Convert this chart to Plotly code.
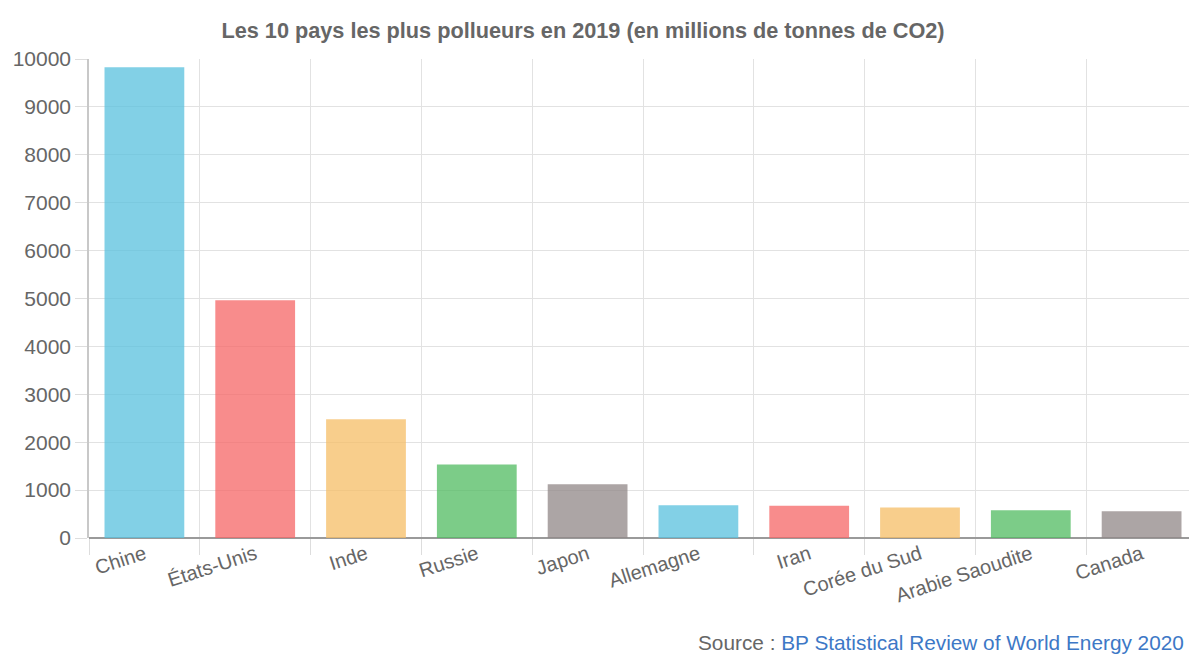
import plotly.graph_objects as go

countries = ["Chine", "États-Unis", "Inde", "Russie", "Japon", "Allemagne", "Iran",
             "Corée du Sud", "Arabie Saoudite", "Canada"]
emissions = [9825.8, 4964.7, 2480.4, 1532.6, 1123.1, 683.8, 670.7, 638.6, 579.9, 556.2]
bar_colors = ["rgba(88,192,222,0.75)", "rgba(246,102,102,0.75)", "rgba(246,190,102,0.75)",
              "rgba(80,187,96,0.75)", "rgba(144,135,135,0.75)",
              "rgba(88,192,222,0.75)", "rgba(246,102,102,0.75)", "rgba(246,190,102,0.75)",
              "rgba(80,187,96,0.75)", "rgba(144,135,135,0.75)"]
y_ticks = [0, 1000, 2000, 3000, 4000, 5000, 6000, 7000, 8000, 9000, 10000]
y_tick_labels = [str(v) for v in y_ticks]

# page has an 8px body margin, so figure coords = screen coords - 8
OFF = 8
W, H = 1197 - OFF, 657 - OFF
FONT = "Liberation Sans, Arial, sans-serif"

L, T = 89 - OFF, 59 - OFF
B = H - (538 - OFF)

fig = go.Figure(go.Bar(
    x=countries, y=emissions,
    marker=dict(color=bar_colors, line=dict(width=0)),
    width=0.72,
))

fig.update_layout(
    width=W, height=H,
    margin=dict(l=L, r=0, t=T, b=B, autoexpand=False),
    paper_bgcolor="white", plot_bgcolor="white",
    showlegend=False,
    font=dict(family=FONT, color="#666666", size=20),
    title=dict(text="<b>Les 10 pays les plus pollueurs en 2019 (en millions de tonnes de CO2)</b>",
               x=(583 - OFF) / W, xanchor="center", xref="container",
               y=1 - (30 - OFF) / H, yanchor="middle", yref="container",
               font=dict(family=FONT, size=21.7, color="#666666")),
    xaxis=dict(
        type="category", tickson="boundaries", automargin=False,
        showgrid=True, gridcolor="#e2e2e2", gridwidth=1,
        ticks="outside", ticklen=16, tickcolor="#dddddd",
        tickangle=-18, tickfont=dict(size=20, color="#666666"),
        showline=False, range=[-0.5, 9.5],
    ),
    yaxis=dict(
        range=[0, 10000], tickvals=y_ticks, ticktext=y_tick_labels, automargin=False,
        showgrid=True, gridcolor="#e2e2e2", gridwidth=1,
        zeroline=True, zerolinecolor="#9a9a9a", zerolinewidth=1.5,
        ticks="outside", ticklen=12, tickcolor="#dddddd",
        showline=True, linecolor="#c8c8c8", linewidth=1.5,
        tickfont=dict(size=21, color="#666666"),
    ),
    annotations=[
        dict(text="Source : <span style='color:#3d78c6'>BP Statistical Review of World Energy 2020</span>",
             xref="paper", yref="paper",
             x=(696 - 89) / (1197 - 89), y=-(642 - 538) / (538 - 59),
             xanchor="left", yanchor="middle", showarrow=False,
             font=dict(family=FONT, size=20.8, color="#666666")),
    ],
)

fig.write_html("out.html")
